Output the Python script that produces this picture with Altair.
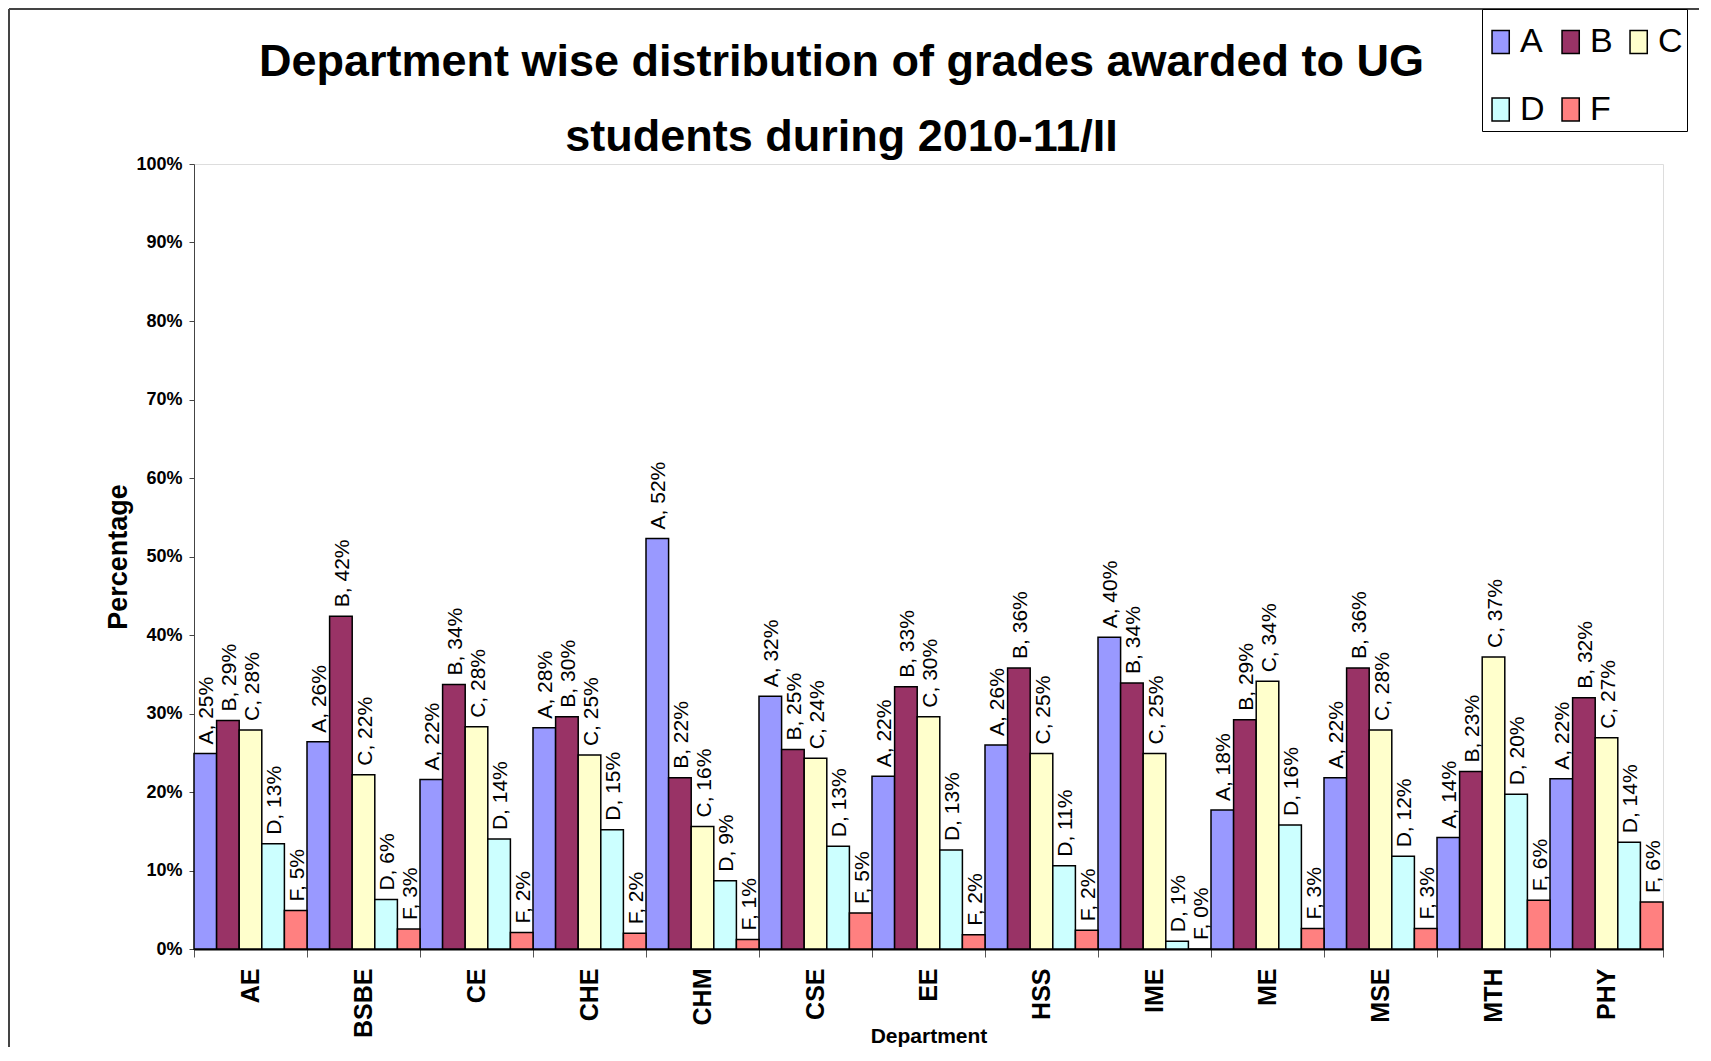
import altair as alt
import pandas as pd

departments = ["AE", "BSBE", "CE", "CHE", "CHM", "CSE", "EE", "HSS", "IME", "ME", "MSE", "MTH", "PHY"]
grades = ["A", "B", "C", "D", "F"]
grade_A = [24.9, 26.4, 21.6, 28.2, 52.3, 32.2, 22.0, 26.0, 39.7, 17.7, 21.8, 14.2, 21.7]
grade_B = [29.1, 42.4, 33.7, 29.6, 21.8, 25.4, 33.4, 35.8, 33.9, 29.2, 35.8, 22.6, 32.0]
grade_C = [27.9, 22.2, 28.3, 24.7, 15.6, 24.3, 29.6, 24.9, 24.9, 34.1, 27.9, 37.2, 26.9]
grade_D = [13.4, 6.3, 14.0, 15.2, 8.7, 13.1, 12.6, 10.6, 1.0, 15.8, 11.8, 19.7, 13.6]
grade_F = [4.9, 2.55, 2.1, 2.0, 1.2, 4.6, 1.8, 2.4, 0.0, 2.6, 2.6, 6.2, 6.0]
colors = ["#9999FF", "#993366", "#FFFFCC", "#CCFFFF", "#FF8080"]
y_ticks = list(range(0, 101, 10))
title_lines = ["Department wise distribution of grades awarded to UG", "students during 2010-11/II"]

series = dict(zip(grades, [grade_A, grade_B, grade_C, grade_D, grade_F]))
rows = []
for g in grades:
    for d, v in zip(departments, series[g]):
        rows.append({"dept": d, "grade": g, "value": v, "label": f"{g}, {int(v + 0.5)}%"})
df = pd.DataFrame(rows)

FONT = "Liberation Sans, Arial, sans-serif"

W, H = 1469, 785
PAD = {"left": 186, "top": 156, "right": 36, "bottom": 98}

base = alt.Chart(df).encode(
    x=alt.X(
        "dept:N",
        sort=departments,
        scale=alt.Scale(paddingInner=0, paddingOuter=0),
        title="Department",
        axis=alt.Axis(
            labelAngle=270,
            labelAlign="right",
            labelBaseline="middle",
            labelFont=FONT,
            labelFontWeight="bold",
            labelFontSize=25,
            labelColor="black",
            labelPadding=11,
            tickSize=8,
            tickBand="extent",
            tickColor="#555555",
            domainColor="black",
            domainWidth=2,
            titleFont=FONT,
            titleFontSize=21,
            titleFontWeight="bold",
            titleColor="black",
            titleY=87,
            titleBaseline="middle",
        ),
    ),
    xOffset=alt.XOffset("grade:N", sort=grades, scale=alt.Scale(paddingInner=0, paddingOuter=0)),
    y=alt.Y(
        "value:Q",
        scale=alt.Scale(domain=[0, 100], nice=False),
        title="Percentage",
        axis=alt.Axis(
            values=y_ticks,
            labelExpr="datum.value + '%'",
            labelFont=FONT,
            labelFontSize=18,
            labelFontWeight="bold",
            labelColor="black",
            labelPadding=7,
            tickSize=5,
            tickColor="#444444",
            domainColor="#444444",
            grid=False,
            titleFont=FONT,
            titleFontSize=27,
            titleFontWeight="bold",
            titleColor="black",
            titlePadding=3,
        ),
    ),
)

bars = base.mark_bar(stroke="black", strokeWidth=1.5).encode(
    color=alt.Color(
        "grade:N",
        scale=alt.Scale(domain=grades, range=colors),
        legend=alt.Legend(
            title=" ",
            titleFontSize=4,
            titlePadding=8,
            orient="none",
            legendX=1288,
            legendY=-155,
            direction="horizontal",
            columns=3,
            symbolType="M-1.91,-2H1.09V2H-1.91Z",
            symbolSize=132,
            symbolStrokeColor="black",
            symbolStrokeWidth=1.5,
            symbolOpacity=1,
            labelFont=FONT,
            labelFontSize=34,
            labelColor="black",
            labelOffset=0,
            columnPadding=11,
            rowPadding=33.5,
            padding=4,
            strokeColor="black",
            fillColor="white",
        ),
    )
)

labels = base.mark_text(
    angle=270, align="left", baseline="middle", dx=9, dy=2,
    font=FONT, fontSize=21, color="black",
).encode(text="label:N")

frame = alt.Chart(alt.Data(values=[{}]))
frame_left = frame.mark_rule(color="#444444", strokeWidth=2).encode(
    x=alt.value(-185), y=alt.value(-155), y2=alt.value(H + PAD["bottom"])
)
frame_top = frame.mark_rule(color="#444444", strokeWidth=2).encode(
    x=alt.value(-185), x2=alt.value(W + PAD["right"]), y=alt.value(-155)
)

chart = alt.layer(bars, labels, frame_left, frame_top).properties(
    width=W,
    height=H,
    autosize="none",
    padding=PAD,
    title=alt.TitleParams(
        text=title_lines,
        font=FONT,
        fontSize=45,
        fontWeight="bold",
        color="black",
        lineHeight=75,
        anchor="middle",
        frame="group",
        dx=-87,
        offset=-152,
    ),
).configure_view(fill="#CCFFFF", strokeWidth=0).configure(background="white")

chart.save("out.html", embed_options={"renderer": "svg", "actions": False})
